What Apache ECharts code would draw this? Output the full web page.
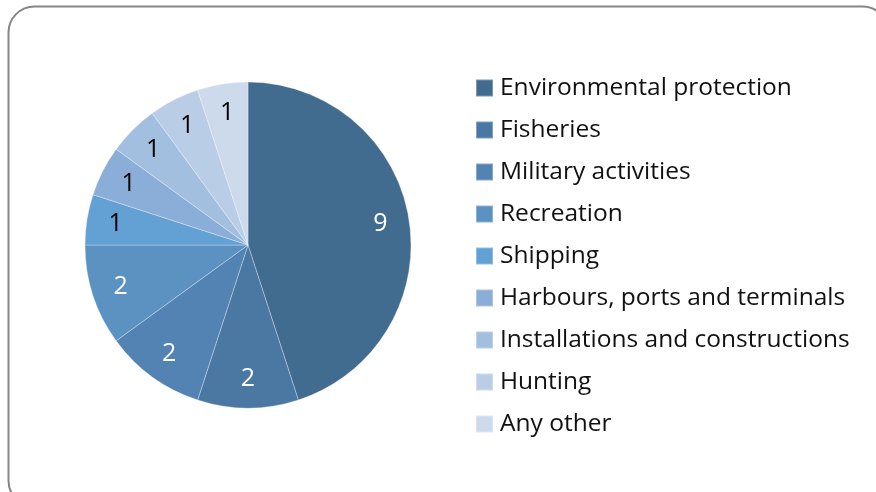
<!DOCTYPE html>
<html>
<head>
<meta charset="utf-8">
<script src="https://cdn.jsdelivr.net/npm/echarts@6/dist/echarts.min.js"></script>
<style>
html,body{margin:0;padding:0;background:#fff;}
#chart{width:876px;height:492px;}
</style>
</head>
<body>
<div id="chart"></div>
<script>
const categories = ["Environmental protection","Fisheries","Military activities","Recreation","Shipping","Harbours, ports and terminals","Installations and constructions","Hunting","Any other"];
const values = [9,2,2,2,1,1,1,1,1];
const colors = ["#416b8f","#4a78a2","#5283b3","#5b92c1","#63a0d4","#8aaed8","#a2bfe0","#bacde6","#ccdaec"];
const labelColors = ["#ffffff","#ffffff","#ffffff","#ffffff","#000000","#000000","#000000","#000000","#000000"];

const FONT = "Open Sans";
const chart = echarts.init(document.getElementById('chart'));
const dataSlices = categories.map((c,i)=>({name:c,value:values[i],itemStyle:{color:colors[i]}}));
const labelSlices = categories.map((c,i)=>({name:c,value:values[i],itemStyle:{color:'rgba(0,0,0,0)'},label:{color:labelColors[i]}}));
chart.setOption({
  animation:false,
  graphic:[{type:'rect',shape:{x:8.5,y:6.5,width:880,height:500,r:26},style:{fill:'none',stroke:'#868686',lineWidth:2},z:-1}],
  legend:{
    orient:'vertical',left:470,top:70,
    itemWidth:17,itemHeight:17,itemGap:16,
    icon:'rect',
    data:categories,
    textStyle:{fontFamily:FONT,fontSize:24.5,color:'#111',lineHeight:26,padding:[0,0,0,2]},
    selectedMode:false
  },
  series:[
    {type:'pie',center:[248,245],radius:[0,163],startAngle:90,clockwise:true,
     data:dataSlices,label:{show:false},labelLine:{show:false},
     itemStyle:{borderColor:'rgba(255,255,255,0.3)',borderWidth:1},silent:true},
    {type:'pie',center:[248,245],radius:[0,262],startAngle:90,clockwise:true,
     data:labelSlices,silent:true,z:3,
     label:{show:true,position:'inside',formatter:'{c}',fontFamily:FONT,fontSize:25},
     labelLine:{show:false},itemStyle:{borderWidth:0}}
  ]
});
</script>
</body>
</html>
